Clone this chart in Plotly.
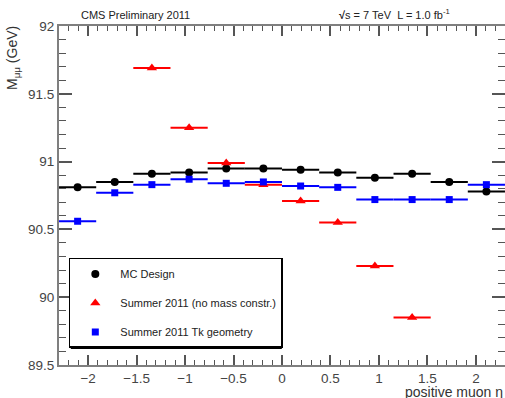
import plotly.graph_objects as go

# bin centres in positive-muon eta and half bin width
eta_centers = [-2.108, -1.725, -1.342, -0.958, -0.575, -0.192,
               0.192, 0.575, 0.958, 1.342, 1.725, 2.108]
eta_halfwidth = [0.1917] * 12

mc_design = [90.81, 90.85, 90.91, 90.92, 90.95, 90.95,
             90.94, 90.92, 90.88, 90.91, 90.85, 90.78]
summer_nomass = [None, None, 91.69, 91.25, 90.99, 90.83,
                 90.71, 90.55, 90.23, 89.85, None, None]
summer_tk = [90.56, 90.77, 90.83, 90.87, 90.84, 90.85,
             90.82, 90.81, 90.72, 90.72, 90.72, 90.83]

series_names = ["MC Design", "Summer 2011 (no mass constr.)", "Summer 2011 Tk geometry"]
series_values = [mc_design, summer_nomass, summer_tk]
series_colors = ["#000000", "#ff0000", "#0000ff"]
series_symbols = ["circle", "triangle-up", "square"]
series_sizes = [8, 9, 7]

FONT = "Liberation Sans, Arial, sans-serif"

fig = go.Figure()
for i, (name, vals, col, sym, sz) in enumerate(zip(series_names, series_values, series_colors,
                                                  series_symbols, series_sizes)):
    fig.add_trace(go.Scatter(
        x=eta_centers, y=vals, mode="markers", name=name,
        legendgroup=f"g{i}",
        marker=dict(color=col, symbol=sym, size=sz, line=dict(width=0)),
        error_x=dict(type="data", array=eta_halfwidth, symmetric=True,
                     color=col, thickness=2, width=0),
        cliponaxis=True,
    ))

axis_common = dict(
    automargin=False,
    showgrid=False, zeroline=False,
    showline=True, linecolor="#7f7f7f", linewidth=2, mirror="allticks",
    ticks="inside", tickcolor="#555555", tickwidth=1.5,
    tickfont=dict(family=FONT, size=13.5, color="#444444"),
)

fig.update_xaxes(range=[-2.3, 2.3], dtick=0.5, tick0=0, ticklen=10,
                 ticklabelstandoff=0,
                 minor=dict(ticks="inside", dtick=0.1, ticklen=5, tickcolor="#555555", tickwidth=1.2),
                 **axis_common)
fig.update_yaxes(range=[89.5, 92], dtick=0.5, tick0=89.5, ticklen=13,
                 minor=dict(ticks="inside", dtick=0.1, ticklen=7, tickcolor="#555555", tickwidth=1.2),
                 **axis_common)

fig.add_annotation(text="CMS Preliminary 2011", xref="paper", yref="paper",
                   x=0.045, y=1, xanchor="left", yanchor="bottom", yshift=3,
                   showarrow=False, font=dict(family=FONT, size=11, color="#222222"))
fig.add_annotation(text="<b>√</b>s = 7 TeV  L = 1.0 fb<sup>-1</sup>", xref="paper", yref="paper",
                   x=0.623, y=1, xanchor="left", yanchor="bottom", yshift=3,
                   showarrow=False, font=dict(family=FONT, size=11, color="#222222"))
fig.add_annotation(text="M<sub>μμ</sub> (GeV)", xref="paper", yref="paper",
                   x=0, y=1, xanchor="center", yanchor="top", xshift=-46, yshift=2,
                   textangle=-90, showarrow=False,
                   font=dict(family=FONT, size=14, color="#333333"))
fig.add_annotation(text="positive muon η", xref="paper", yref="paper",
                   x=1, y=0, xanchor="right", yanchor="middle", yshift=-27,
                   showarrow=False, font=dict(family=FONT, size=14, color="#333333"))

# legend drop shadow (ROOT style)
LEG_X, LEG_Y = 0.022, 0.316
fig.add_shape(type="rect", xref="paper", yref="paper",
              xsizemode="pixel", ysizemode="pixel",
              xanchor=LEG_X, yanchor=LEG_Y,
              x0=2, x1=2 + 211, y0=-2, y1=-2 - 89,
              fillcolor="black", line=dict(width=0), layer="above")

fig.update_layout(
    width=505, height=398,
    margin=dict(l=59, r=0, t=26, b=33, autoexpand=False),
    paper_bgcolor="white", plot_bgcolor="white",
    showlegend=True,
    legend=dict(x=LEG_X, y=LEG_Y, xanchor="left", yanchor="top",
                bgcolor="white", bordercolor="black", borderwidth=1.5,
                font=dict(family=FONT, size=11, color="#222222"),
                tracegroupgap=10, itemwidth=40, traceorder="grouped"),
)

fig.write_html("out.html", config={"displayModeBar": False},
               post_script="document.body.style.margin='0px';")
